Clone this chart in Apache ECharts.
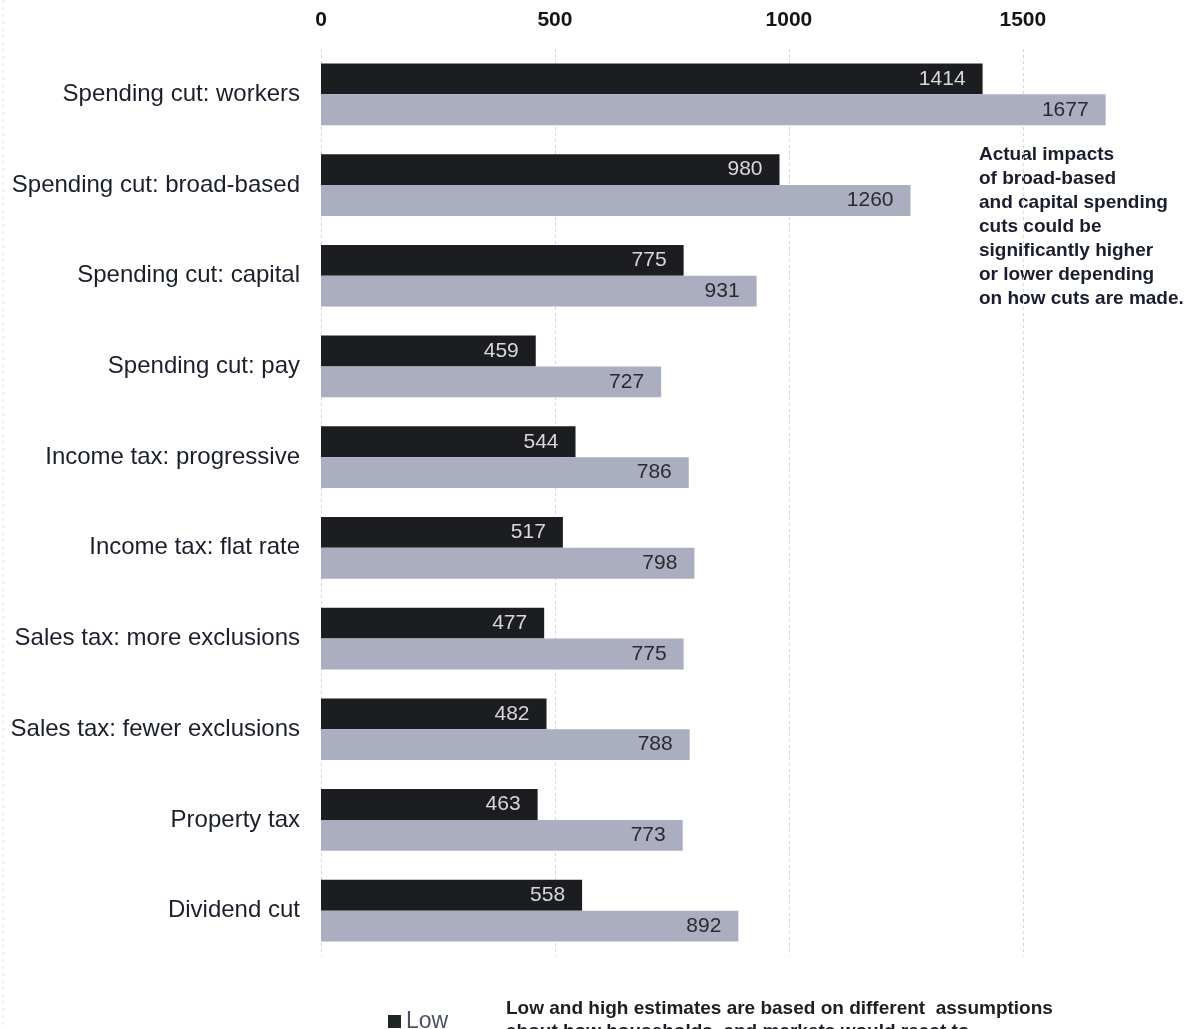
<!DOCTYPE html>
<html>
<head>
<meta charset="utf-8">
<script src="https://cdn.jsdelivr.net/npm/echarts@6/dist/echarts.min.js"></script>
<style>
  html, body { margin: 0; padding: 0; background: #ffffff; }
  #chart { width: 1195px; height: 1029px; }
</style>
</head>
<body>
<div id="chart"></div>
<script>
// Scenario names, top to bottom
const categories = [
  'Spending cut: workers',
  'Spending cut: broad-based',
  'Spending cut: capital',
  'Spending cut: pay',
  'Income tax: progressive',
  'Income tax: flat rate',
  'Sales tax: more exclusions',
  'Sales tax: fewer exclusions',
  'Property tax',
  'Dividend cut'
];
// Low and high estimates per scenario
const lowValues  = [1414, 980, 775, 459, 544, 517, 477, 482, 463, 558];
const highValues = [1677, 1260, 931, 727, 786, 798, 775, 788, 773, 892];
// Value axis ticks
const tickValues = [0, 500, 1000, 1500];

const sideNote = [
  'Actual impacts',
  'of broad-based',
  'and capital spending',
  'cuts could be',
  'significantly higher',
  'or lower depending',
  'on how cuts are made.'
];
const footNote = [
  'Low and high estimates are based on different  assumptions',
  'about how households  and markets would react to'
];

const chart = echarts.init(document.getElementById('chart'), null, { renderer: 'canvas' });

const fontFamily = 'Liberation Sans, Arial, sans-serif';

chart.setOption({
  backgroundColor: '#ffffff',
  animation: false,
  grid: { left: 321, right: 0, top: 49, bottom: 73, containLabel: false },
  legend: {
    data: ['Low'],
    left: 383,
    top: 1005,
    itemWidth: 13,
    itemHeight: 13,
    icon: 'rect',
    itemGap: 4,
    itemStyle: { color: '#1e2620' },
    textStyle: { fontFamily: fontFamily, fontSize: 23, color: '#4b5263' }
  },
  xAxis: {
    type: 'value',
    position: 'top',
    min: 0,
    max: 1868,
    interval: 500,
    axisLine: { show: false },
    axisTick: { show: false },
    axisLabel: {
      fontFamily: fontFamily,
      fontSize: 21,
      fontWeight: 'bold',
      color: '#141414',
      margin: 18,
      showMaxLabel: false,
      formatter: v => tickValues.includes(v) ? String(v) : ''
    },
    splitLine: {
      show: true,
      showMaxLine: false,
      lineStyle: { color: '#d6d6d6', type: [3, 3], width: 1 }
    }
  },
  yAxis: {
    type: 'category',
    data: categories,
    inverse: true,
    axisLine: { show: false },
    axisTick: { show: false },
    axisLabel: {
      fontFamily: fontFamily,
      fontSize: 24,
      color: '#1b1f2c',
      margin: 21
    }
  },
  series: [
    {
      name: 'Low',
      type: 'bar',
      data: lowValues,
      barGap: '0%',
      barCategoryGap: '32%',
      itemStyle: { color: '#1c1d20' },
      label: {
        show: true,
        position: 'insideRight',
        distance: 17,
        fontFamily: fontFamily,
        fontSize: 21,
        color: '#d8d8dc'
      }
    },
    {
      name: 'High',
      type: 'bar',
      data: highValues,
      barGap: '0%',
      barCategoryGap: '32%',
      itemStyle: { color: '#aaaec0' },
      label: {
        show: true,
        position: 'insideRight',
        distance: 17,
        fontFamily: fontFamily,
        fontSize: 21,
        color: '#2a2a2e'
      }
    }
  ],
  graphic: [
    {
      type: 'text',
      left: 979,
      top: 143,
      style: {
        text: sideNote.join('\n'),
        fontFamily: fontFamily,
        fontSize: 19,
        fontWeight: 'bold',
        lineHeight: 24,
        fill: '#1a1d2e'
      }
    },
    {
      type: 'text',
      left: 506,
      top: 997,
      style: {
        text: footNote.join('\n'),
        fontFamily: fontFamily,
        fontSize: 19,
        fontWeight: 'bold',
        lineHeight: 23,
        fill: '#1e1e22'
      }
    },
    {
      type: 'line',
      shape: { x1: 3, y1: 0, x2: 3, y2: 1029 },
      style: { stroke: '#e2e2e2', lineWidth: 1, lineDash: [3, 4] }
    }
  ]
});
</script>
</body>
</html>
